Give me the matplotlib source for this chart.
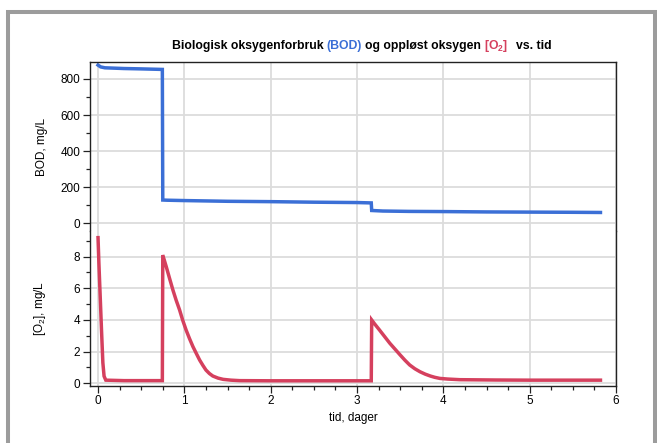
import matplotlib
matplotlib.use('Agg')
import matplotlib.pyplot as plt
from matplotlib.patches import Rectangle
from matplotlib.ticker import MultipleLocator

plt.rcParams['font.family'] = ['Liberation Sans', 'DejaVu Sans']
plt.rcParams['mathtext.default'] = 'regular'

# BOD, mg/L
bod_t = [0.0, 0.03, 0.08, 0.3, 0.5, 0.745, 0.75, 0.8, 1.0, 1.5, 2.0, 2.5, 3.0,
         3.165, 3.17, 3.3, 3.6, 4.0, 4.5, 5.0, 5.5, 5.82]
bod = [877, 867, 862, 858, 856, 853, 129, 128, 126, 122, 120, 117, 115,
       113, 71, 68, 66, 65, 63, 62, 61, 60]

# oppløst oksygen [O2], mg/L
o2_t = [0.0, 0.01, 0.025, 0.04, 0.056, 0.07, 0.09, 0.3, 0.5, 0.745,
        0.75, 0.79, 0.83, 0.867, 0.905, 0.945, 0.98, 1.02, 1.06, 1.1, 1.14, 1.177,
        1.215, 1.25, 1.29, 1.33, 1.39, 1.45, 1.54, 1.64, 2.0, 2.5, 3.0,
        3.165, 3.17, 3.2, 3.26, 3.32, 3.38, 3.44, 3.5, 3.555, 3.61, 3.67, 3.73,
        3.79, 3.85, 3.9, 3.96, 4.05, 4.19, 4.6, 5.0, 5.5, 5.82]
o2 = [9.2, 7.6, 5.5, 3.4, 1.3, 0.45, 0.2, 0.17, 0.17, 0.17,
      8.1, 7.37, 6.6, 5.9, 5.25, 4.63, 4.0, 3.37, 2.82, 2.31, 1.87, 1.47,
      1.13, 0.84, 0.62, 0.46, 0.33, 0.25, 0.2, 0.17, 0.16, 0.16, 0.16,
      0.16, 4.0, 3.78, 3.37, 2.95, 2.53, 2.16, 1.79, 1.46, 1.16, 0.92, 0.73,
      0.58, 0.46, 0.38, 0.31, 0.27, 0.23, 0.21, 0.2, 0.2, 0.2]

title_parts = [('Biologisk oksygenforbruk', 'black'), ('(BOD)', '#3b6fd6'),
               ('og oppløst oksygen', 'black'), ('[O$_2$]', '#d5405e'),
               ('vs. tid', 'black')]

BLUE = '#3b6fd6'
RED = '#d5405e'
W, H = 657, 443

fig = plt.figure(figsize=(W / 100, H / 100), dpi=100)

left, right = 90 / W, 616 / W
top, split, bottom = 1 - 62.3 / H, 1 - 231 / H, 1 - 385.7 / H
ax1 = fig.add_axes([left, split, right - left, top - split])
ax2 = fig.add_axes([left, bottom, right - left, split - bottom], sharex=ax1)

ax1.plot(bod_t, bod, color=BLUE, lw=2.5, solid_joinstyle='miter')
ax2.plot(o2_t, o2, color=RED, lw=2.5, solid_joinstyle='miter')

ax1.set_xlim(-0.093, 6)
ax1.set_ylim(-42.7, 892.5)
ax2.set_ylim(-0.15, 9.62)

for ax in (ax1, ax2):
    ax.xaxis.set_major_locator(MultipleLocator(1))
    ax.xaxis.set_minor_locator(MultipleLocator(0.25))
    ax.grid(True, which='major', color='#dcdcdc', lw=1.3)
    ax.set_axisbelow(True)
    for s in ax.spines.values():
        s.set_color('#222222')
        s.set_linewidth(1.0)
    ax.tick_params(which='major', length=5, width=0.9, color='#222222',
                   labelsize=8.5, pad=2)
    ax.tick_params(which='minor', length=3, width=0.9, color='#222222')
    ax.tick_params(which='both', right=False, top=False)

ax1.yaxis.set_major_locator(MultipleLocator(200))
ax1.yaxis.set_minor_locator(MultipleLocator(100))
ax2.yaxis.set_major_locator(MultipleLocator(2))
ax2.yaxis.set_minor_locator(MultipleLocator(1))

ax1.spines['bottom'].set_visible(False)
ax2.spines['top'].set_visible(False)
ax1.tick_params(which='both', bottom=False, labelbottom=False)

ax1.set_ylabel('BOD, mg/L', fontsize=8.5)
ax2.set_ylabel('[O$_2$], mg/L', fontsize=8.5)
ax1.yaxis.set_label_coords(-0.08, 0.5)
ax2.yaxis.set_label_coords(-0.08, 0.5)
ax2.set_xlabel('tid, dager', fontsize=8.5, labelpad=3)

# multi-coloured title, pieces laid out side by side
fs = 8.8
texts = [fig.text(0, 1 - 49 / H, s, color=c, fontsize=fs, fontweight='bold')
         for s, c in title_parts]
fig.canvas.draw()
r = fig.canvas.get_renderer()
gaps = [3.0, 3.0, 3.0, 8.0]
widths = [t.get_window_extent(r).width for t in texts]
total = sum(widths) + sum(gaps)
x = 362 - total / 2
for i, t in enumerate(texts):
    t.set_x(x / W)
    x += widths[i] + (gaps[i] if i < len(gaps) else 0)

# grey frame round the figure
fig.patches.append(Rectangle((8 / W, -0.05), 647 / W, 1.05 - 12 / H,
                             transform=fig.transFigure, fill=False,
                             edgecolor='#9c9c9c', lw=2.9))

fig.savefig('out.png', dpi=100)
